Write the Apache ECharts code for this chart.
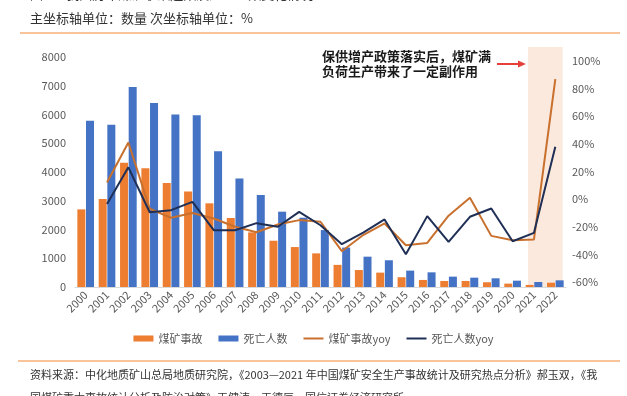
<!DOCTYPE html>
<html>
<head>
<meta charset="utf-8">
<script src="https://cdn.jsdelivr.net/npm/echarts@6/dist/echarts.min.js"></script>
<style>
html,body{margin:0;padding:0;background:#fff;}
#chart{width:627px;height:396px;}
</style>
</head>
<body>
<div id="chart"></div>
<script>
// ---- data ----
const years = ['2000','2001','2002','2003','2004','2005','2006','2007','2008','2009','2010','2011','2012','2013','2014','2015','2016','2017','2018','2019','2020','2021','2022'];
const accidents = [2700, 3060, 4320, 4130, 3620, 3320, 2910, 2400, 1900, 1610, 1390, 1170, 770, 590, 500, 340, 245, 210, 210, 165, 118, 72, 150];
const deaths = [5780, 5640, 6960, 6400, 6000, 5970, 4720, 3770, 3200, 2620, 2410, 1980, 1370, 1055, 930, 570, 510, 360, 325, 302, 220, 174, 232];
const accidentsYoy = [null, 12, 41, -7, -13.5, -10, -14, -20, -24, -18.4, -15.2, -16.4, -37.7, -26, -17.6, -33.4, -31.7, -12, 1, -26.6, -29.7, -29.2, 86.8];
const deathsYoy = [null, -3.6, 23, -9.5, -8, -2, -22.5, -22.5, -17.4, -20, -9.2, -18.9, -32.6, -24.2, -14.7, -39.9, -12.3, -31, -12.8, -6.8, -30.5, -24.4, 37.9];
const leftTicks = {min: 0, max: 8000, interval: 1000};
const rightTicks = {min: -60, max: 100, interval: 20};
const seriesNames = ['煤矿事故', '死亡人数', '煤矿事故yoy', '死亡人数yoy'];

const FONT = '"Noto Sans CJK SC", "Noto Sans", sans-serif';
const chart = echarts.init(document.getElementById('chart'), null, {renderer: 'canvas'});
const lineIcon = 'path://M0,0L20,0L20,2L0,2Z';

const option = {
  animation: false,
  backgroundColor: '#fff',
  textStyle: {fontFamily: FONT},
  grid: [
    {left: 75, right: 61, top: 57, bottom: 109},
    {left: 75, right: 61, top: 61, bottom: 114}
  ],
  legend: {
    bottom: 47,
    left: 'center',
    itemWidth: 20,
    itemHeight: 6,
    itemGap: 16,
    textStyle: {fontSize: 11, color: '#595959', fontFamily: FONT},
    data: [
      {name: seriesNames[0], icon: 'rect'},
      {name: seriesNames[1], icon: 'rect'},
      {name: seriesNames[2], icon: lineIcon},
      {name: seriesNames[3], icon: lineIcon}
    ]
  },
  xAxis: [
    {
      type: 'category', data: years, gridIndex: 0,
      axisLine: {lineStyle: {color: '#D9D9D9', width: 1}},
      axisTick: {show: false},
      axisLabel: {rotate: 45, interval: 0, color: '#595959', fontSize: 11, margin: 6, fontFamily: FONT}
    },
    {type: 'category', data: years, gridIndex: 1, show: false}
  ],
  yAxis: [
    {
      type: 'value', gridIndex: 0, min: leftTicks.min, max: leftTicks.max, interval: leftTicks.interval,
      splitLine: {show: false}, axisLine: {show: false}, axisTick: {show: false},
      axisLabel: {color: '#595959', fontSize: 11, margin: 9, fontFamily: FONT, formatter: v => String(v)}
    },
    {
      type: 'value', gridIndex: 1, position: 'right', min: rightTicks.min, max: rightTicks.max, interval: rightTicks.interval,
      splitLine: {show: false}, axisLine: {show: false}, axisTick: {show: false},
      axisLabel: {color: '#595959', fontSize: 11, margin: 6, formatter: v => v + '%', fontFamily: FONT}
    }
  ],
  series: [
    {name: seriesNames[0], type: 'bar', xAxisIndex: 0, yAxisIndex: 0, data: accidents, barWidth: 8, barGap: '8%', itemStyle: {color: '#ED7D31'}, z: 3},
    {name: seriesNames[1], type: 'bar', xAxisIndex: 0, yAxisIndex: 0, data: deaths, barWidth: 8, barGap: '8%', itemStyle: {color: '#4472C4'}, z: 3},
    {name: seriesNames[2], type: 'line', xAxisIndex: 1, yAxisIndex: 1, data: accidentsYoy, symbol: 'none', showSymbol: false, lineStyle: {color: '#C8702E', width: 2}, itemStyle: {color: '#C8702E'}, z: 5},
    {name: seriesNames[3], type: 'line', xAxisIndex: 1, yAxisIndex: 1, data: deathsYoy, symbol: 'none', showSymbol: false, lineStyle: {color: '#1F2F55', width: 2}, itemStyle: {color: '#1F2F55'}, z: 6}
  ]
};
chart.setOption(option);

// highlight band for 2021-2022 computed from axis scale
const c21 = chart.convertToPixel({xAxisIndex: 0}, '2021');
const c22 = chart.convertToPixel({xAxisIndex: 0}, '2022');
const step = c22 - c21;
const bandL = c21 - 0.28 * step;
const bandR = c22 + 0.34 * step;
const baseY = chart.convertToPixel({yAxisIndex: 0}, 0);

chart.setOption({
  graphic: [
    {type: 'text', left: 30, top: -12, style: {text: '图 7：我国历年煤矿事故起数及死亡人数变化情况', font: '13px ' + FONT, fill: '#333'}},
    {type: 'text', left: 30, top: 12, style: {text: '主坐标轴单位：数量 次坐标轴单位：%', font: '13px ' + FONT, fill: '#333'}},
    {type: 'rect', shape: {x: 20, y: 32, width: 600, height: 2}, style: {fill: '#F8C49C'}},
    {type: 'rect', z: -10, shape: {x: bandL, y: 47, width: bandR - bandL, height: baseY - 47}, style: {fill: '#FCE9DD'}},
    {type: 'text', left: 322, top: 49, style: {text: '保供增产政策落实后，煤矿满\n负荷生产带来了一定副作用', font: 'bold 13px ' + FONT, fill: '#1a1a1a', lineHeight: 15}},
    {type: 'line', shape: {x1: 497, y1: 64, x2: 519, y2: 64}, style: {stroke: '#E5403A', lineWidth: 2}},
    {type: 'polygon', shape: {points: [[518, 60.5], [526, 64], [518, 67.5]]}, style: {fill: '#E5403A'}},
    {type: 'rect', shape: {x: 18, y: 360, width: 602, height: 2}, style: {fill: '#F8C49C'}},
    {type: 'text', left: 30, top: 369, style: {text: '资料来源：中化地质矿山总局地质研究院，《2003—2021 年中国煤矿安全生产事故统计及研究热点分析》郝玉双，《我', font: '11px ' + FONT, fill: '#333'}},
    {type: 'text', left: 30, top: 392, style: {text: '国煤矿重大事故统计分析及防治对策》王健涛，王德辰，国信证券经济研究所', font: '11px ' + FONT, fill: '#333'}}
  ]
});
</script>
</body>
</html>
